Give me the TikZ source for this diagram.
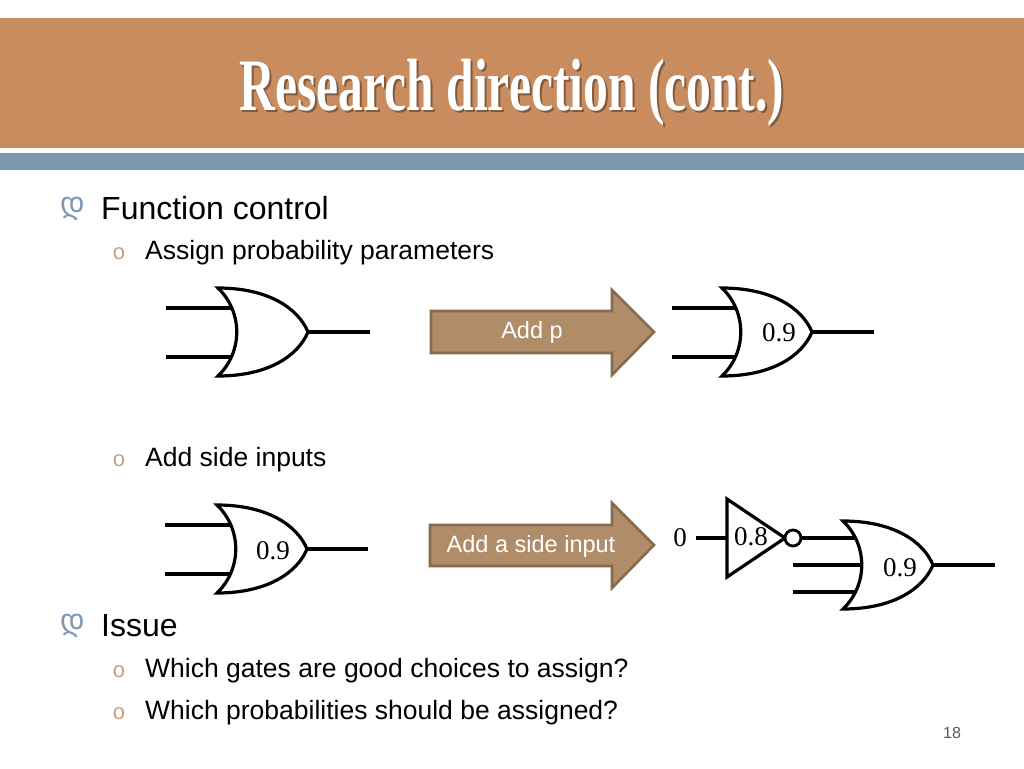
\documentclass[tikz,border=0pt]{standalone}
\usepackage{fontspec}
\setmainfont{Liberation Sans}
\newfontfamily\gateserif{Liberation Serif}
\newfontfamily\symfont{DejaVu Sans}
\usetikzlibrary{positioning}
\definecolor{barorange}{RGB}{201,140,94}
\definecolor{barblue}{RGB}{124,151,174}
\definecolor{arrowfill}{RGB}{176,141,104}
\definecolor{arrowline}{RGB}{135,107,77}
\definecolor{bulletblue}{RGB}{126,152,179}
\definecolor{bullettan}{RGB}{196,160,125}
\tikzset{gate/.style = {draw, fill=white, line width=3.2pt}}
\tikzset{wire/.style = {line width=3.2pt}}
\tikzset{pbox/.style = {fill=arrowfill, draw=arrowline, line width=2.6pt}}
\tikzset{plabel/.style = {inner sep=0, font=\gateserif\fontsize{27}{30}\selectfont}}
\tikzset{boxtext/.style = {inner sep=0, text=white, font=\fontsize{23.5}{28}\selectfont}}
\tikzset{item/.style = {anchor=base west, inner sep=0, font=\fontsize{32}{38}\selectfont}}
\tikzset{subitem/.style = {anchor=base west, inner sep=0, font=\fontsize{26.5}{32}\selectfont}}
\tikzset{topbullet/.style = {inner sep=0, text=bulletblue, font=\symfont\fontsize{30}{34}\selectfont}}
\tikzset{subbullet/.style = {inner sep=0, text=bullettan, font=\fontsize{22}{26}\selectfont}}
\tikzset{orgate/.pic = {
  \draw [gate] (0,-44) .. controls (25,-20) and (25,20) .. (0,44)
               .. controls (50,44) and (80,24) .. (90,0)
               .. controls (80,-24) and (50,-44) .. (0,-44) -- cycle;
  \coordinate (-in1) at (13,-24);
  \coordinate (-in2) at (18,0);
  \coordinate (-in3) at (13,25);
  \coordinate (-out) at (90,0);
}}

\begin{document}
\begin{tikzpicture}[x=1pt, y=-1pt]
  \useasboundingbox [fill=white] (0,0) rectangle (1024,768);
  \fill [barorange] (0,18) rectangle (1024,148);
  \fill [barblue] (0,153) rectangle (1024,170);
  \node (titleshadow) [anchor=base, text=black, opacity=0.35,
        font=\gateserif\bfseries\fontsize{74}{80}\selectfont] at (514,112)
        {\scalebox{0.67}[1]{Research direction (cont.)}};
  \node (title) [anchor=base, text=white,
        font=\gateserif\bfseries\fontsize{74}{80}\selectfont] at (512,110)
        {\scalebox{0.67}[1]{Research direction (cont.)}};

  \node (b1) [topbullet] at (73,209) {დ};
  \node (t1) [item] at (101,219) {Function control};
  \node (b2) [subbullet] at (119,254) {o};
  \node (t2) [subitem] at (145,259) {Assign probability parameters};
  \node (b3) [subbullet] at (119,461) {o};
  \node (t3) [subitem] at (145,466) {Add side inputs};
  \node (b4) [topbullet] at (73,626) {დ};
  \node (t4) [item] at (101,636) {Issue};
  \node (b5) [subbullet] at (119,672) {o};
  \node (t5) [subitem] at (145,677) {Which gates are good choices to assign?};
  \node (b6) [subbullet] at (119,714) {o};
  \node (t6) [subitem] at (145,719) {Which probabilities should be assigned?};

  \pic (ga) at (218,332) {orgate};
  \coordinate (ga1) at (166,308);
  \coordinate (ga2) at (166,357);
  \coordinate (gao) at (370,332);
  \draw [wire] (ga1) -- (ga-in1);
  \draw [wire] (ga2) -- (ga-in3);
  \draw [wire] (ga-out) -- (gao);

  \draw [pbox] (431,311) -- (612,311) -- (612,290) -- (654,332)
               -- (612,375) -- (612,353) -- (431,353) -- cycle;
  \node (addp) [boxtext] at (532,332) {Add p};

  \pic (gb) at (722,332) {orgate};
  \coordinate (gb1) at (672,308);
  \coordinate (gb2) at (672,357);
  \coordinate (gbo) at (874,332);
  \draw [wire] (gb1) -- (gb-in1);
  \draw [wire] (gb2) -- (gb-in3);
  \draw [wire] (gb-out) -- (gbo);
  \node (pb) [plabel] at (779,333) {0.9};

  \pic (gc) at (217,549) {orgate};
  \coordinate (gc1) at (165,525);
  \coordinate (gc2) at (165,574);
  \coordinate (gco) at (368,549);
  \draw [wire] (gc1) -- (gc-in1);
  \draw [wire] (gc2) -- (gc-in3);
  \draw [wire] (gc-out) -- (gco);
  \node (pc) [plabel] at (273,551) {0.9};

  \draw [pbox] (430,525) -- (612,525) -- (612,503) -- (654,545)
               -- (612,588) -- (612,566) -- (430,566) -- cycle;
  \node (addside) [boxtext] at (531,546) {Add a side input};

  \node (zero) [plabel] at (680,538) {0};
  \coordinate (bufin) at (727,538);
  \draw [wire] ([xshift=9pt]zero.east) -- (bufin);
  \draw [gate] (727,499) -- (785,538) -- (727,577) -- cycle;
  \node (bubble) [circle, draw, fill=white, line width=2.8pt, inner sep=0,
        minimum size=16pt] at (793,538) {};
  \node (pbuf) [plabel] at (751,537) {0.8};

  \pic (gd) at (843,565) {orgate};
  \coordinate (gd2) at (793,565);
  \coordinate (gd3) at (793,592);
  \coordinate (gdo) at (995,565);
  \draw [wire] (bubble.east) -- (bubble.east -| gd-in1);
  \draw [wire] (gd2) -- (gd-in2);
  \draw [wire] (gd3) -- (gd3 -| gd-in3);
  \draw [wire] (gd-out) -- (gdo);
  \node (pd) [plabel] at (900,568) {0.9};

  \node (page) [inner sep=0, text=black!65, font=\fontsize{16}{18}\selectfont]
        at (952,733) {18};
\end{tikzpicture}
\end{document}
